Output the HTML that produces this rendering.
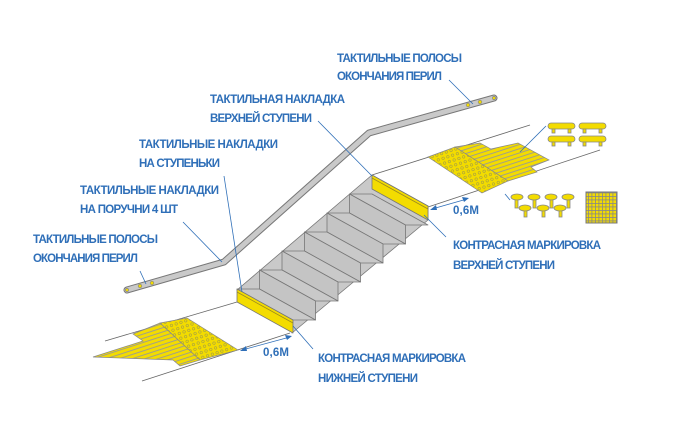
<!DOCTYPE html>
<html><head><meta charset="utf-8"><style>
html,body{margin:0;padding:0;background:#fff;}
svg{display:block;}
text{font-family:"Liberation Sans Narrow","Liberation Sans",sans-serif;font-size:11.5px;fill:#2f6fb8;font-weight:bold;}
</style></head><body>
<svg width="677" height="431" viewBox="0 0 677 431" xmlns="http://www.w3.org/2000/svg">
<defs>
<pattern id="dots" width="5" height="5" patternUnits="userSpaceOnUse" patternTransform="rotate(-18)">
<rect width="5" height="5" fill="#f3dc00"/><circle cx="2.5" cy="2.5" r="1.3" fill="#f3dc00" stroke="#8a8a5a" stroke-width="0.5"/></pattern>
<pattern id="stripes" width="4" height="4" patternUnits="userSpaceOnUse" patternTransform="rotate(28)">
<rect width="4" height="4" fill="#f3dc00"/><rect y="1.5" width="4" height="0.9" fill="#999"/></pattern>
<pattern id="stripes2" width="4" height="4" patternUnits="userSpaceOnUse" patternTransform="rotate(-18)">
<rect width="4" height="4" fill="#f3dc00"/><rect y="1.5" width="4" height="0.9" fill="#999"/></pattern>
<pattern id="grid" width="3.5" height="3.5" patternUnits="userSpaceOnUse">
<rect width="3.5" height="3.5" fill="#f3dc00"/><rect width="0.8" height="3.5" fill="#888"/><rect width="3.5" height="0.8" fill="#888"/></pattern>
</defs>
<g stroke="#666" stroke-width="0.8" fill="none">
<line x1="372" y1="175" x2="530" y2="125"/>
<line x1="428" y1="207" x2="600" y2="150"/>
<line x1="105" y1="341" x2="237" y2="302"/>
<line x1="142" y1="381" x2="290" y2="333"/>
</g>
<!-- upper pad -->
<polygon points="455,147 480,143 491,149 518,143 549,160 531,167 537,172 508,181" fill="url(#stripes2)" stroke="#888" stroke-width="0.7"/>
<polygon points="428,157 455,147 508,181 482,193" fill="url(#dots)" stroke="#888" stroke-width="0.7"/>
<!-- lower pad -->
<polygon points="93,357 143,341 133,334 160,323 200,360 180,366 173,360" fill="url(#stripes2)" stroke="#888" stroke-width="0.7"/>
<polygon points="160,323 187,318 238,350 200,360" fill="url(#dots)" stroke="#888" stroke-width="0.7"/>
<!-- stairs -->
<g stroke="#777" stroke-width="0.8" stroke-linejoin="round">
<polygon points="372,175 428,206 428,220 292,333 292,320 237,290" fill="#c9c9c9"/>
<polygon points="349.5,194 405.5,225 428,225 372,194" fill="#c9c9c9"/>
<polygon points="349.5,194 405.5,225 405.5,244 349.5,213" fill="#c4c4c4"/>
<polygon points="327,213 383,244 405.5,244 349.5,213" fill="#c9c9c9"/>
<polygon points="327,213 383,244 383,263 327,232" fill="#c4c4c4"/>
<polygon points="304.5,232 360.5,263 383,263 327,232" fill="#c9c9c9"/>
<polygon points="304.5,232 360.5,263 360.5,282 304.5,251" fill="#c4c4c4"/>
<polygon points="282,251 338,282 360.5,282 304.5,251" fill="#c9c9c9"/>
<polygon points="282,251 338,282 338,301 282,270" fill="#c4c4c4"/>
<polygon points="259.5,270 315.5,301 338,301 282,270" fill="#c9c9c9"/>
<polygon points="259.5,270 315.5,301 315.5,320 259.5,289" fill="#c4c4c4"/>
<polygon points="237,289 293,320 315.5,320 259.5,289" fill="#c9c9c9"/>
<polygon points="372,175 428,206 428,220 372,189" fill="#f3dc00"/>
<polygon points="237,289 293,320 293,333 237,302" fill="#f3dc00"/>
</g>
<g stroke="#9a8a20" stroke-width="0.8"><line x1="372" y1="178" x2="428" y2="209"/><line x1="237" y1="292" x2="293" y2="323"/></g>
<!-- handrail -->
<polyline points="127,290 224,262 369,133 494,98" fill="none" stroke="#777" stroke-width="7" stroke-linecap="round" stroke-linejoin="round"/>
<polyline points="127,290 224,262 369,133 494,98" fill="none" stroke="#c9c9c9" stroke-width="5" stroke-linecap="round" stroke-linejoin="round"/>
<g fill="#f3dc00" stroke="#888" stroke-width="0.7">
<circle cx="140" cy="286" r="1.8"/><circle cx="152" cy="283" r="1.8"/><circle cx="127" cy="290" r="1.6"/>
<circle cx="468" cy="105" r="1.8"/><circle cx="480" cy="102" r="1.8"/><circle cx="494" cy="98" r="1.6"/>
</g>
<!-- leaders -->
<g stroke="#2f6fb8" stroke-width="0.8" fill="none">
<line x1="449" y1="80" x2="473" y2="104"/>
<line x1="318" y1="121" x2="372" y2="176"/>
<line x1="224" y1="176" x2="242" y2="292"/>
<line x1="183" y1="222" x2="222" y2="262"/>
<line x1="140" y1="271" x2="146" y2="284"/>
<line x1="446" y1="237" x2="424" y2="215"/>
<line x1="293" y1="326" x2="313" y2="349"/>
<line x1="546" y1="126" x2="520" y2="152"/>
<line x1="505" y1="194" x2="510" y2="200"/>
<line x1="432" y1="209" x2="467" y2="199"/>
<line x1="242" y1="350" x2="290" y2="337"/>
</g>
<g fill="#2f6fb8">
<polygon points="430,210 436,205 437,210"/><polygon points="469,198 462,197 464,202"/>
<polygon points="240,351 246,346 247,351"/><polygon points="292,336 285,335 287,340"/>
</g>
<!-- icons -->
<g fill="#f3dc00" stroke="#888" stroke-width="0.8">
<rect x="548" y="123" width="27" height="6" rx="3"/><rect x="579" y="123" width="27" height="6" rx="3"/>
<rect x="548" y="136" width="27" height="6" rx="3"/><rect x="579" y="136" width="27" height="6" rx="3"/>
<rect x="552" y="129" width="3" height="4"/><rect x="568" y="129" width="3" height="4"/><rect x="583" y="129" width="3" height="4"/><rect x="599" y="129" width="3" height="4"/>
<rect x="552" y="142" width="3" height="4"/><rect x="568" y="142" width="3" height="4"/><rect x="583" y="142" width="3" height="4"/><rect x="599" y="142" width="3" height="4"/>
<rect x="515" y="199" width="3" height="9"/><rect x="533" y="199" width="3" height="9"/><rect x="550" y="199" width="3" height="9"/><rect x="567" y="199" width="3" height="9"/>
<ellipse cx="517" cy="197" rx="6" ry="3"/><ellipse cx="534" cy="197" rx="6" ry="3"/><ellipse cx="551" cy="197" rx="6" ry="3"/><ellipse cx="568" cy="197" rx="6" ry="3"/>
<rect x="524" y="208" width="3" height="9"/><rect x="542" y="208" width="3" height="9"/><rect x="559" y="208" width="3" height="9"/>
<ellipse cx="525" cy="208" rx="6" ry="3"/><ellipse cx="543" cy="208" rx="6" ry="3"/><ellipse cx="560" cy="208" rx="6" ry="3"/>
</g>
<rect x="586" y="192" width="31" height="31" fill="url(#grid)" stroke="#777" stroke-width="1"/>
<!-- labels -->
<text x="337" y="62" textLength="125">ТАКТИЛЬНЫЕ ПОЛОСЫ</text>
<text x="337" y="80" textLength="105">ОКОНЧАНИЯ ПЕРИЛ</text>
<text x="210" y="103" textLength="135">ТАКТИЛЬНАЯ НАКЛАДКА</text>
<text x="210" y="122" textLength="102">ВЕРХНЕЙ СТУПЕНИ</text>
<text x="139" y="148" textLength="139">ТАКТИЛЬНЫЕ НАКЛАДКИ</text>
<text x="139" y="167" textLength="81">НА СТУПЕНЬКИ</text>
<text x="80" y="194" textLength="139">ТАКТИЛЬНЫЕ НАКЛАДКИ</text>
<text x="80" y="213" textLength="98">НА ПОРУЧНИ 4 ШТ</text>
<text x="33" y="243" textLength="125">ТАКТИЛЬНЫЕ ПОЛОСЫ</text>
<text x="33" y="262" textLength="105">ОКОНЧАНИЯ ПЕРИЛ</text>
<text x="453" y="214" textLength="26">0,6М</text>
<text x="453" y="249" textLength="148">КОНТРАСНАЯ МАРКИРОВКА</text>
<text x="453" y="269" textLength="102">ВЕРХНЕЙ СТУПЕНИ</text>
<text x="263" y="356" textLength="26">0,6М</text>
<text x="318" y="362" textLength="148">КОНТРАСНАЯ МАРКИРОВКА</text>
<text x="318" y="382" textLength="100">НИЖНЕЙ СТУПЕНИ</text>
</svg>
</body></html>
